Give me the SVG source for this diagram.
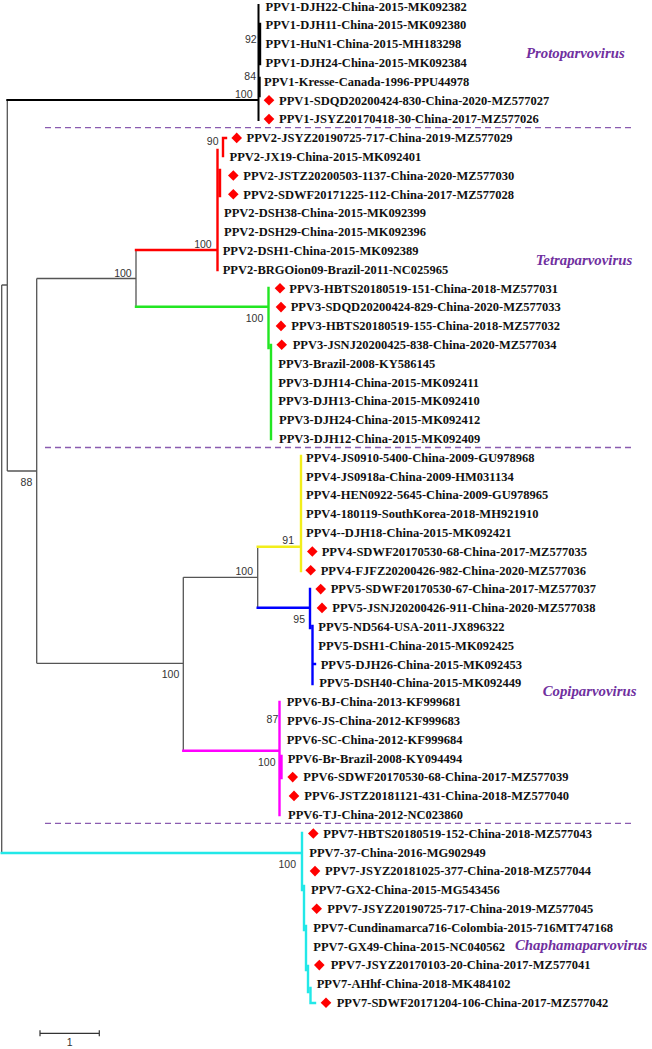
<svg xmlns="http://www.w3.org/2000/svg" xmlns:xlink="http://www.w3.org/1999/xlink" width="652" height="1049" viewBox="0 0 652 1049">
<style>
.t{font-family:"Liberation Serif","Times New Roman",serif;font-weight:bold;font-size:12.5px;fill:#111}
.bs{font-family:"Liberation Sans",Arial,sans-serif;font-size:10.5px;fill:#333;text-anchor:end}
.gn{font-family:"Liberation Serif","Times New Roman",serif;font-weight:bold;font-style:italic;font-size:14.8px;fill:#7030A0}
.bb{stroke:#555;stroke-width:1.3;fill:none}
.cl{stroke-width:2.4;fill:none;stroke-linecap:square}
.dash{stroke:#8A5BB0;stroke-width:1.3;stroke-dasharray:6 4;fill:none}
.dia{fill:#FF0000}
</style>
<defs>
<polygon id="dia" points="0,-5.3 5.3,0 0,5.3 -5.3,0"/>
</defs>
<rect width="652" height="1049" fill="#fff"/>
<g id="connectors">
<path class="bb" d="M7.3,100V471 M1.7,285H7.3 M1.7,285V853 M7.3,471H36.7 M36.7,278.5V663.3 M36.7,278.5H136 M136,250V306.7 M36.7,663.3H183.3 M183.3,577.3V750.7 M183.3,577.3H257.7 M257.7,546.7V607.7"/>
<path class="cl" stroke="#000" d="M7.3,100H258.5 M258.5,5V120" style="stroke-width:2"/>
<path class="cl" stroke="#000" d="M260,24V64 M259.5,78V96"/>
<path class="cl" stroke="#FF0000" d="M136,250H217.5 M217.5,150V270 M220,170V196 M223,138V156 M223,138H226"/>
<path class="cl" stroke="#22E622" d="M136,306.7H268.5 M268.5,288V348 M271,345V439"/>
<path class="cl" stroke="#F2EE1A" d="M257.7,546.7H301 M301,456V571"/>
<path class="cl" stroke="#0000FF" d="M257.7,607.7H310 M310,589V628 M312.5,626V684 M312.5,664H315"/>
<path class="cl" stroke="#FF00FF" d="M183.3,750.7H279.5 M279.5,702V815 M281.5,756V778"/>
<path class="cl" stroke="#22E8E8" d="M1.7,853H302 M302,833V890 M304,886V930 M306,926V970 M308,966V992 M310.5,988V1003 M310.5,1003H315"/>
</g>
<g id="separators">
<line class="dash" x1="45" y1="127.7" x2="631" y2="127.7"/>
<line class="dash" x1="45" y1="447.5" x2="631" y2="447.5"/>
<line class="dash" x1="45" y1="823.3" x2="631" y2="823.3"/>
</g>
<g id="bootstrap">
<text class="bs" x="256.7" y="43.3">92</text>
<text class="bs" x="256" y="80">84</text>
<text class="bs" x="252.5" y="97.5">100</text>
<text class="bs" x="218.5" y="145">90</text>
<text class="bs" x="211.7" y="248.3">100</text>
<text class="bs" x="131.7" y="276.7">100</text>
<text class="bs" x="263.3" y="322.3">100</text>
<text class="bs" x="32.3" y="486">88</text>
<text class="bs" x="294" y="544">91</text>
<text class="bs" x="253" y="575">100</text>
<text class="bs" x="305" y="623.3">95</text>
<text class="bs" x="179.3" y="678.3">100</text>
<text class="bs" x="278.3" y="723">87</text>
<text class="bs" x="275.5" y="765.7">100</text>
<text class="bs" x="296" y="868">100</text>
</g>
<g id="genus-labels">
<text class="gn" x="526" y="58">Protoparvovirus</text>
<text class="gn" x="535.7" y="264.7">Tetraparvovirus</text>
<text class="gn" x="542.7" y="696.3">Copiparvovirus</text>
<text class="gn" x="515" y="949.7">Chaphamaparvovirus</text>
</g>
<g id="leaves">
<g id="n0"><text class="t" x="265.5" y="10.6">PPV1-DJH22-China-2015-MK092382</text></g>
<g id="n1"><text class="t" x="265.5" y="29.4">PPV1-DJH11-China-2015-MK092380</text></g>
<g id="n2"><text class="t" x="265.5" y="48.2">PPV1-HuN1-China-2015-MH183298</text></g>
<g id="n3"><text class="t" x="265.5" y="67">PPV1-DJH24-China-2015-MK092384</text></g>
<g id="n4"><text class="t" x="264" y="85.8">PPV1-Kresse-Canada-1996-PPU44978</text></g>
<g id="n5"><use href="#dia" class="dia" x="269" y="100.3"/><text class="t" x="279" y="104.6">PPV1-SDQD20200424-830-China-2020-MZ577027</text></g>
<g id="n6"><use href="#dia" class="dia" x="269" y="119.1"/><text class="t" x="279" y="123.4">PPV1-JSYZ20170418-30-China-2017-MZ577026</text></g>
<g id="n7"><use href="#dia" class="dia" x="236.7" y="137.9"/><text class="t" x="246.5" y="142.2">PPV2-JSYZ20190725-717-China-2019-MZ577029</text></g>
<g id="n8"><text class="t" x="229.5" y="161">PPV2-JX19-China-2015-MK092401</text></g>
<g id="n9"><use href="#dia" class="dia" x="233.3" y="175.5"/><text class="t" x="243.3" y="179.8">PPV2-JSTZ20200503-1137-China-2020-MZ577030</text></g>
<g id="n10"><use href="#dia" class="dia" x="233.3" y="194.3"/><text class="t" x="243.3" y="198.6">PPV2-SDWF20171225-112-China-2017-MZ577028</text></g>
<g id="n11"><text class="t" x="224" y="217.4">PPV2-DSH38-China-2015-MK092399</text></g>
<g id="n12"><text class="t" x="224" y="236.2">PPV2-DSH29-China-2015-MK092396</text></g>
<g id="n13"><text class="t" x="222.7" y="255">PPV2-DSH1-China-2015-MK092389</text></g>
<g id="n14"><text class="t" x="222.7" y="273.8">PPV2-BRGOion09-Brazil-2011-NC025965</text></g>
<g id="n15"><use href="#dia" class="dia" x="280" y="288.3"/><text class="t" x="289.3" y="292.6">PPV3-HBTS20180519-151-China-2018-MZ577031</text></g>
<g id="n16"><use href="#dia" class="dia" x="281" y="307.1"/><text class="t" x="290.7" y="311.4">PPV3-SDQD20200424-829-China-2020-MZ577033</text></g>
<g id="n17"><use href="#dia" class="dia" x="281" y="325.9"/><text class="t" x="291.3" y="330.2">PPV3-HBTS20180519-155-China-2018-MZ577032</text></g>
<g id="n18"><use href="#dia" class="dia" x="281.7" y="344.7"/><text class="t" x="292.7" y="349">PPV3-JSNJ20200425-838-China-2020-MZ577034</text></g>
<g id="n19"><text class="t" x="278.3" y="367.8">PPV3-Brazil-2008-KY586145</text></g>
<g id="n20"><text class="t" x="278.3" y="386.6">PPV3-DJH14-China-2015-MK092411</text></g>
<g id="n21"><text class="t" x="278.3" y="405.4">PPV3-DJH13-China-2015-MK092410</text></g>
<g id="n22"><text class="t" x="279" y="424.2">PPV3-DJH24-China-2015-MK092412</text></g>
<g id="n23"><text class="t" x="279" y="443">PPV3-DJH12-China-2015-MK092409</text></g>
<g id="n24"><text class="t" x="306" y="461.8">PPV4-JS0910-5400-China-2009-GU978968</text></g>
<g id="n25"><text class="t" x="306" y="480.6">PPV4-JS0918a-China-2009-HM031134</text></g>
<g id="n26"><text class="t" x="306" y="499.4">PPV4-HEN0922-5645-China-2009-GU978965</text></g>
<g id="n27"><text class="t" x="306" y="518.2">PPV4-180119-SouthKorea-2018-MH921910</text></g>
<g id="n28"><text class="t" x="306" y="537">PPV4--DJH18-China-2015-MK092421</text></g>
<g id="n29"><use href="#dia" class="dia" x="312.3" y="551.5"/><text class="t" x="321.7" y="555.8">PPV4-SDWF20170530-68-China-2017-MZ577035</text></g>
<g id="n30"><use href="#dia" class="dia" x="310.7" y="570.3"/><text class="t" x="320.7" y="574.6">PPV4-FJFZ20200426-982-China-2020-MZ577036</text></g>
<g id="n31"><use href="#dia" class="dia" x="320.7" y="589.1"/><text class="t" x="330.7" y="593.4">PPV5-SDWF20170530-67-China-2017-MZ577037</text></g>
<g id="n32"><use href="#dia" class="dia" x="322" y="607.9"/><text class="t" x="332.3" y="612.2">PPV5-JSNJ20200426-911-China-2020-MZ577038</text></g>
<g id="n33"><text class="t" x="318.3" y="631">PPV5-ND564-USA-2011-JX896322</text></g>
<g id="n34"><text class="t" x="318.3" y="649.8">PPV5-DSH1-China-2015-MK092425</text></g>
<g id="n35"><text class="t" x="320.7" y="668.6">PPV5-DJH26-China-2015-MK092453</text></g>
<g id="n36"><text class="t" x="319.3" y="687.4">PPV5-DSH40-China-2015-MK092449</text></g>
<g id="n37"><text class="t" x="286.7" y="706.2">PPV6-BJ-China-2013-KF999681</text></g>
<g id="n38"><text class="t" x="287" y="725">PPV6-JS-China-2012-KF999683</text></g>
<g id="n39"><text class="t" x="286.7" y="743.8">PPV6-SC-China-2012-KF999684</text></g>
<g id="n40"><text class="t" x="287.7" y="762.6">PPV6-Br-Brazil-2008-KY094494</text></g>
<g id="n41"><use href="#dia" class="dia" x="292.7" y="777.1"/><text class="t" x="303.3" y="781.4">PPV6-SDWF20170530-68-China-2017-MZ577039</text></g>
<g id="n42"><use href="#dia" class="dia" x="294" y="795.9"/><text class="t" x="304.3" y="800.2">PPV6-JSTZ20181121-431-China-2018-MZ577040</text></g>
<g id="n43"><text class="t" x="288" y="819">PPV6-TJ-China-2012-NC023860</text></g>
<g id="n44"><use href="#dia" class="dia" x="313.3" y="833.5"/><text class="t" x="323.3" y="837.8">PPV7-HBTS20180519-152-China-2018-MZ577043</text></g>
<g id="n45"><text class="t" x="309.3" y="856.6">PPV7-37-China-2016-MG902949</text></g>
<g id="n46"><use href="#dia" class="dia" x="315" y="871.1"/><text class="t" x="325" y="875.4">PPV7-JSYZ20181025-377-China-2018-MZ577044</text></g>
<g id="n47"><text class="t" x="311" y="894.2">PPV7-GX2-China-2015-MG543456</text></g>
<g id="n48"><use href="#dia" class="dia" x="316.7" y="908.7"/><text class="t" x="327.3" y="913">PPV7-JSYZ20190725-717-China-2019-MZ577045</text></g>
<g id="n49"><text class="t" x="313.3" y="931.8">PPV7-Cundinamarca716-Colombia-2015-716MT747168</text></g>
<g id="n50"><text class="t" x="313.3" y="950.6">PPV7-GX49-China-2015-NC040562</text></g>
<g id="n51"><use href="#dia" class="dia" x="319.3" y="965.1"/><text class="t" x="330.7" y="969.4">PPV7-JSYZ20170103-20-China-2017-MZ577041</text></g>
<g id="n52"><text class="t" x="316.7" y="988.2">PPV7-AHhf-China-2018-MK484102</text></g>
<g id="n53"><use href="#dia" class="dia" x="326" y="1002.7"/><text class="t" x="336.7" y="1007">PPV7-SDWF20171204-106-China-2017-MZ577042</text></g>
</g>
<g id="scale-bar">
<path d="M40,1033.3H99.3 M40,1030.3V1036.3 M99.3,1030.3V1036.3" stroke="#333" stroke-width="1.2" fill="none"/>
<text class="bs" x="72.5" y="1046">1</text>
</g>
</svg>
